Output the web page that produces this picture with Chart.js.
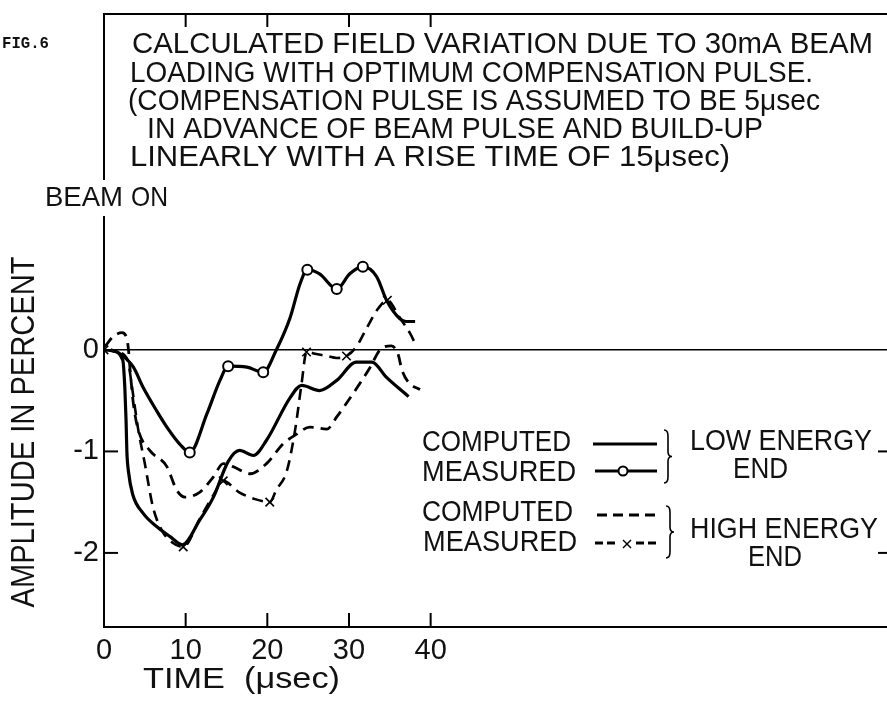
<!DOCTYPE html>
<html>
<head>
<meta charset="utf-8">
<title>FIG.6</title>
<script src="https://cdn.jsdelivr.net/npm/chart.js@4.4.1/dist/chart.umd.min.js"></script>
<style>
  html, body { margin: 0; padding: 0; background: #fff; overflow: hidden; }
  #wrap { width: 900px; height: 707px; }
</style>
</head>
<body>
<div id="wrap"><canvas id="figChart" width="900" height="707"></canvas></div>
<script>
// values: time in µs, amplitude in percent

// low energy end, computed (solid)
const lowCompX = [0.8, 2.3, 2.55, 2.7, 2.8, 3.0, 3.5, 4.8, 6.6, 8.1, 9.6, 11.7, 13.4, 15.2, 16.6, 18.3, 19.9, 22.8, 24.2, 26.4, 28.5, 30.9, 32.8, 34.6, 37.3];
const lowCompY = [0, -0.1, -0.37, -0.69, -1.0, -1.2, -1.42, -1.61, -1.75, -1.84, -1.92, -1.68, -1.45, -1.1, -0.99, -1.04, -0.89, -0.47, -0.35, -0.40, -0.30, -0.12, -0.12, -0.27, -0.46];

// low energy end, measured (solid with circles, 1 = measured point)
const lowMeasX = [0.8, 2.0, 3.6, 4.8, 6.45, 7.7, 9.3, 10.5, 12.6, 14.2, 15.2, 17.5, 19.5, 21.1, 22.8, 24.0, 24.9, 26.4, 28.5, 30.1, 31.7, 33.4, 34.6, 36.2, 37.0, 38.1];
const lowMeasY = [0, -0.04, -0.17, -0.37, -0.6, -0.76, -0.93, -1.01, -0.63, -0.30, -0.16, -0.17, -0.22, 0.0, 0.32, 0.65, 0.79, 0.75, 0.60, 0.75, 0.82, 0.72, 0.49, 0.31, 0.28, 0.28];
const lowMeasMark = [0, 0, 0, 0, 0, 0, 0, 1, 0, 0, 1, 0, 1, 0, 0, 0, 1, 0, 1, 0, 1, 0, 0, 0, 0, 0];

// high energy end, computed (dashed)
const highCompX = [0.1, 1.1, 2.2, 2.8, 3.0, 3.2, 3.6, 4.2, 5.6, 7.7, 8.9, 9.9, 11.75, 13.4, 14.6, 15.8, 17.9, 19.9, 22.0, 23.6, 25.2, 27.3, 28.5, 30.5, 32.6, 33.8, 35.2, 36.0, 36.5, 37.3, 38.7];
const highCompY = [0.03, 0.13, 0.17, 0.11, 0.0, -0.2, -0.53, -0.79, -0.99, -1.15, -1.38, -1.45, -1.40, -1.25, -1.12, -1.15, -1.22, -1.12, -0.92, -0.83, -0.76, -0.78, -0.66, -0.43, -0.17, 0.0, 0.04, -0.04, -0.20, -0.32, -0.39];

// high energy end, measured (dashed with crosses, 1 = measured point)
const highMeasX = [0, 1.5, 2.9, 3.4, 4.2, 5.0, 6.0, 7.1, 8.4, 9.7, 11.75, 13.4, 14.6, 16.5, 18.5, 20.3, 21.1, 22.4, 23.4, 24.2, 24.8, 26.0, 27.3, 28.5, 29.7, 30.9, 32.2, 33.6, 34.7, 36.2, 37.5, 38.3];
const highMeasY = [0, -0.02, -0.1, -0.35, -0.79, -1.12, -1.55, -1.78, -1.9, -1.94, -1.66, -1.43, -1.29, -1.40, -1.47, -1.50, -1.38, -1.19, -0.79, -0.33, -0.02, -0.04, -0.06, -0.08, -0.06, 0.03, 0.22, 0.41, 0.49, 0.32, 0.16, 0.03];
const highMeasMark = [1, 0, 0, 0, 0, 0, 0, 0, 0, 1, 0, 0, 1, 0, 0, 1, 0, 0, 0, 0, 1, 0, 0, 0, 1, 0, 0, 0, 1, 0, 0, 0];

// axes
const xTickValues = [0, 10, 20, 30, 40];
const xTickLabels = ['0', '10', '20', '30', '40'];
const yTickValues = [0, -1, -2];
const yTickLabels = ['0', '-1', '-2'];

const titleLines = [
  'CALCULATED FIELD VARIATION DUE TO 30mA BEAM',
  'LOADING WITH OPTIMUM COMPENSATION PULSE.',
  '(COMPENSATION PULSE IS ASSUMED TO BE 5\u03bcsec',
  'IN ADVANCE OF BEAM PULSE AND BUILD-UP',
  'LINEARLY WITH A RISE TIME OF 15\u03bcsec)'
];

const FONT = '"Liberation Sans", Arial, sans-serif';
const INK = '#111';

function pts(xs, ys) {
  return xs.map((x, i) => ({ x: x, y: ys[i] }));
}

// draw text squeezed/stretched to a given width
function fitText(ctx, text, x, y, w, align) {
  const nat = ctx.measureText(text).width;
  ctx.save();
  ctx.translate(x, y);
  ctx.scale(w / nat, 1);
  ctx.textAlign = align || 'left';
  ctx.fillText(text, 0, 0);
  ctx.restore();
}

function seg(ctx, x1, y1, x2, y2) {
  ctx.beginPath();
  ctx.moveTo(x1, y1);
  ctx.lineTo(x2, y2);
  ctx.stroke();
}

function brace(ctx, x, y1, y2) {
  const m = (y1 + y2) / 2;
  ctx.beginPath();
  ctx.moveTo(x - 3, y1);
  ctx.quadraticCurveTo(x + 1, y1, x + 1, y1 + 6);
  ctx.lineTo(x + 1, m - 5);
  ctx.quadraticCurveTo(x + 1, m, x + 5, m);
  ctx.quadraticCurveTo(x + 1, m, x + 1, m + 5);
  ctx.lineTo(x + 1, y2 - 6);
  ctx.quadraticCurveTo(x + 1, y2, x - 3, y2);
  ctx.stroke();
}

function cross(ctx, x, y, r) {
  seg(ctx, x - r, y - r, x + r, y + r);
  seg(ctx, x - r, y + r, x + r, y - r);
}

// no label overhang padding: the frame sits right at the canvas edges
function noPad(s) {
  s.paddingTop = 0;
  s.paddingBottom = 0;
  s.paddingLeft = 0;
  s.paddingRight = 0;
}

const decorations = {
  id: 'decorations',
  afterDraw(chart) {
    const ctx = chart.ctx;
    const { left, right, top, bottom } = chart.chartArea;
    const xs = chart.scales.x, ys = chart.scales.y;
    ctx.save();
    ctx.strokeStyle = '#000';
    ctx.fillStyle = INK;
    ctx.lineCap = 'butt';

    // inward tick marks on all four sides
    ctx.lineWidth = 2;
    xTickValues.filter(v => v > 0).forEach(v => {
      const px = xs.getPixelForValue(v);
      seg(ctx, px, bottom, px, bottom - 14);
      seg(ctx, px, top, px, top + 13);
    });
    yTickValues.filter(v => v < 0).forEach(v => {
      const py = ys.getPixelForValue(v);
      seg(ctx, left, py, left + 14, py);
      seg(ctx, right, py, right - 14, py);
    });

    ctx.textBaseline = 'middle';

    // caption inside the frame
    const titleBox = [[132, 45, 741], [130, 74, 683], [128, 102, 692], [147, 130, 616], [130, 158, 600]];
    ctx.font = '30px ' + FONT;
    titleLines.forEach((t, i) => fitText(ctx, t, titleBox[i][0], titleBox[i][1], titleBox[i][2]));

    ctx.font = 'bold 17px "Liberation Mono", "DejaVu Sans Mono", monospace';
    fitText(ctx, 'FIG.6', 2, 44, 47);

    // BEAM ON breaks the time axis line
    ctx.fillStyle = '#fff';
    ctx.fillRect(left - 4, 180, 10, 36);
    ctx.fillStyle = INK;
    ctx.font = '28px ' + FONT;
    fitText(ctx, 'BEAM', 45, 198, 78);
    fitText(ctx, 'ON', 131, 198, 37);

    // axis titles
    ctx.font = '29px ' + FONT;
    fitText(ctx, 'TIME  (\u03bcsec)', 143, 680, 197);
    ctx.save();
    ctx.translate(25, 432);
    ctx.rotate(-Math.PI / 2);
    ctx.font = '33px ' + FONT;
    fitText(ctx, 'AMPLITUDE IN PERCENT', 0, 0, 351, 'center');
    ctx.restore();

    // legend
    ctx.font = '29px ' + FONT;
    fitText(ctx, 'COMPUTED', 422, 443, 149);
    fitText(ctx, 'MEASURED', 422, 473, 154);
    fitText(ctx, 'COMPUTED', 422, 513, 151);
    fitText(ctx, 'MEASURED', 423, 543, 154);
    fitText(ctx, 'LOW ENERGY', 690, 442, 182);
    fitText(ctx, 'END', 733, 470, 55);
    fitText(ctx, 'HIGH ENERGY', 690, 530, 188);
    fitText(ctx, 'END', 748, 558, 54);

    ctx.lineWidth = 3;
    seg(ctx, 593, 444, 657, 444);
    seg(ctx, 595, 471, 657, 471);
    ctx.lineWidth = 2;
    ctx.fillStyle = '#fff';
    ctx.beginPath();
    ctx.arc(623, 471, 4.5, 0, Math.PI * 2);
    ctx.fill();
    ctx.stroke();

    ctx.lineWidth = 3;
    ctx.setLineDash([10, 6]);
    seg(ctx, 597, 515, 657, 515);
    ctx.setLineDash([8, 4]);
    seg(ctx, 595, 543, 618, 543);
    seg(ctx, 636, 543, 660, 543);
    ctx.setLineDash([]);
    ctx.lineWidth = 1.5;
    cross(ctx, 627, 544, 4);

    ctx.lineWidth = 1.6;
    brace(ctx, 667, 430, 483);
    brace(ctx, 669, 506, 558);

    ctx.restore();
  }
};

const chart = new Chart(document.getElementById('figChart'), {
  type: 'line',
  data: {
    datasets: [
      {
        label: 'Measured, low energy end',
        data: pts(lowMeasX, lowMeasY),
        borderColor: '#000',
        borderWidth: 3.2,
        cubicInterpolationMode: 'monotone',
        pointStyle: 'circle',
        pointRadius: lowMeasMark.map(m => (m ? 5 : 0)),
        pointBackgroundColor: '#fff',
        pointBorderColor: '#000',
        pointBorderWidth: 2,
        fill: false
      },
      {
        label: 'Computed, low energy end',
        data: pts(lowCompX, lowCompY),
        borderColor: '#000',
        borderWidth: 3.2,
        cubicInterpolationMode: 'monotone',
        pointRadius: 0,
        fill: false
      },
      {
        label: 'Measured, high energy end',
        data: pts(highMeasX, highMeasY),
        borderColor: '#000',
        borderWidth: 2.6,
        borderDash: [11, 7],
        cubicInterpolationMode: 'monotone',
        pointStyle: 'crossRot',
        pointRadius: highMeasMark.map(m => (m ? 6 : 0)),
        pointBorderColor: '#000',
        pointBorderWidth: 1.6,
        fill: false
      },
      {
        label: 'Computed, high energy end',
        data: pts(highCompX, highCompY),
        borderColor: '#000',
        borderWidth: 2.8,
        borderDash: [11, 7],
        cubicInterpolationMode: 'monotone',
        pointRadius: 0,
        fill: false
      }
    ]
  },
  options: {
    responsive: false,
    animation: false,
    devicePixelRatio: 1,
    events: [],
    layout: { padding: { left: 0, right: 8, top: 0, bottom: 0 } },
    plugins: { legend: { display: false }, tooltip: { enabled: false } },
    scales: {
      x: {
        type: 'linear',
        min: 0,
        max: 96.5,
        afterFit: s => { s.height = 80; noPad(s); },
        afterBuildTicks: s => { s.ticks = xTickValues.map(v => ({ value: v })); },
        ticks: {
          callback: v => xTickLabels[xTickValues.indexOf(v)],
          font: { family: FONT, size: 29 },
          color: INK,
          padding: 7,
          maxRotation: 0,
          autoSkip: false
        },
        grid: { display: false, drawTicks: false },
        border: { color: '#000', width: 2 }
      },
      x2: {
        type: 'linear',
        position: 'top',
        min: 0,
        max: 96.5,
        afterFit: s => { s.height = 14; noPad(s); },
        ticks: { display: false },
        grid: { display: false, drawTicks: false },
        border: { color: '#000', width: 2 }
      },
      y: {
        type: 'linear',
        min: -2.73,
        max: 3.31,
        afterFit: s => { s.width = 104; noPad(s); },
        afterBuildTicks: s => { s.ticks = yTickValues.map(v => ({ value: v })); },
        ticks: {
          callback: v => yTickLabels[yTickValues.indexOf(v)],
          font: { family: FONT, size: 29 },
          color: INK,
          padding: 5
        },
        grid: {
          drawTicks: false,
          color: c => (c.tick && c.tick.value === 0 ? '#000' : 'rgba(0,0,0,0)'),
          lineWidth: 1.6
        },
        border: { color: '#000', width: 2 }
      }
    }
  },
  plugins: [decorations]
});
</script>
</body>
</html>
